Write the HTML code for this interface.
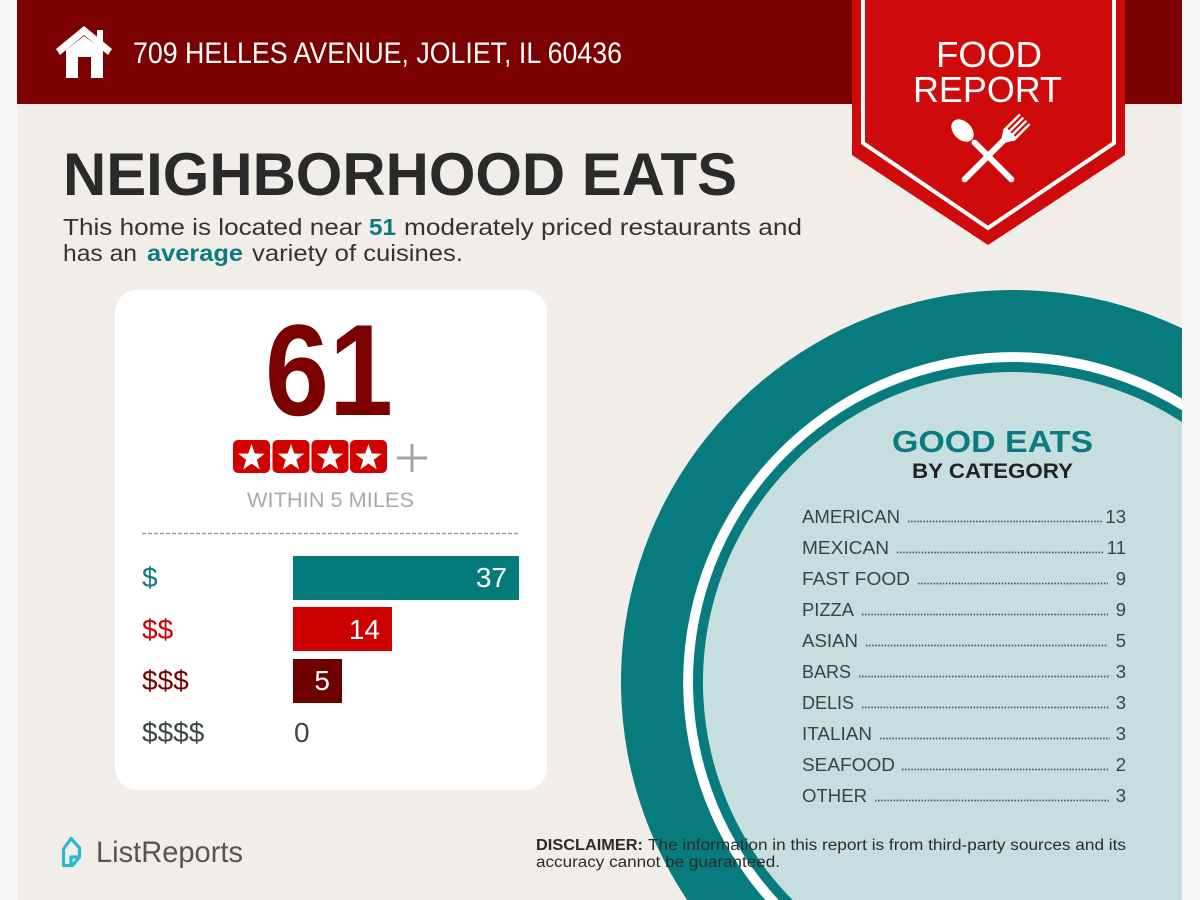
<!DOCTYPE html>
<html>
<head>
<meta charset="utf-8">
<style>
  html,body{margin:0;padding:0;background:#f6f6f8;width:1200px;height:900px;overflow:hidden;}
  svg{display:block;}
  text{font-family:"Liberation Sans", sans-serif;}
</style>
</head>
<body>
<svg width="1200" height="900" viewBox="0 0 1200 900" xmlns="http://www.w3.org/2000/svg">
  <!-- backgrounds -->
  <rect x="0" y="0" width="1200" height="900" fill="#f6f6f8"/>
  <rect x="17" y="0" width="1165" height="900" fill="#f1ede9"/>
  <rect x="17" y="0" width="1165" height="104" fill="#7b0000"/>

  <!-- header house icon -->
  <g fill="#ffffff">
    <polygon points="56,49 84,26 112,49 108,55 84,35 60,55"/>
    <rect x="97" y="30" width="6" height="13"/>
    <path fill-rule="evenodd" d="M66,50 L84,36 L103,50 L103,78 L66,78 Z M78,57 L91,57 L91,78 L78,78 Z"/>
  </g>
  <text x="133" y="63" font-size="30" fill="#ffffff" textLength="489" lengthAdjust="spacingAndGlyphs">709 HELLES AVENUE, JOLIET, IL 60436</text>

  <!-- title -->
  <text x="63" y="195" font-size="60" font-weight="bold" fill="#2a2a2a" textLength="674" lengthAdjust="spacingAndGlyphs">NEIGHBORHOOD EATS</text>
  <g font-size="23" fill="#333333">
    <text x="63" y="235" textLength="299" lengthAdjust="spacingAndGlyphs">This home is located near</text>
    <text x="369" y="235" font-weight="bold" fill="#0a7b7e" textLength="27" lengthAdjust="spacingAndGlyphs">51</text>
    <text x="404" y="235" textLength="398" lengthAdjust="spacingAndGlyphs">moderately priced restaurants and</text>
    <text x="63" y="261" textLength="74" lengthAdjust="spacingAndGlyphs">has an</text>
    <text x="147" y="261" font-weight="bold" fill="#0a7b7e" textLength="96" lengthAdjust="spacingAndGlyphs">average</text>
    <text x="252" y="261" textLength="211" lengthAdjust="spacingAndGlyphs">variety of cuisines.</text>
  </g>

  <!-- circle (pre-clipped arcs) -->
  <path d="M1182,328.3 A392,392 0 0 0 687.2,900 L1182,900 Z" fill="#087b7e"/>
  <path d="M1182,398.6 A330,330 0 0 0 765.3,900 L1182,900 Z" fill="#ffffff"/>
  <path d="M1182,410.3 A320,320 0 0 0 778.7,900 L1182,900 Z" fill="#087b7e"/>
  <path d="M1182,422.1 A310,310 0 0 0 792.6,900 L1182,900 Z" fill="#c6dfde"/>

  <!-- badge -->
  <polygon points="852,0 1125,0 1125,155 988,245 852,155" fill="#cf0a0a"/>
  <polyline points="863,0 863,143 988,228 1114,143 1114,0" fill="none" stroke="#ffffff" stroke-width="4"/>
  <text x="936" y="67" font-size="36" fill="#ffffff" textLength="106" lengthAdjust="spacingAndGlyphs">FOOD</text>
  <text x="913" y="102" font-size="36" fill="#ffffff" textLength="149" lengthAdjust="spacingAndGlyphs">REPORT</text>
  <!-- spoon -->
  <g transform="translate(988,156) rotate(-45)" fill="#ffffff">
    <rect x="-3" y="-22" width="6" height="58" rx="3"/>
    <ellipse cx="0" cy="-36" rx="9" ry="13"/>
  </g>
  <!-- fork -->
  <g transform="translate(988,156) rotate(45)" fill="#ffffff">
    <rect x="-3" y="-24" width="6" height="60" rx="3"/>
    <path d="M-3,-22 L-8,-30 L8,-30 L3,-22 Z"/>
    <rect x="-8" y="-33" width="16" height="4"/>
    <rect x="-8" y="-52" width="2.4" height="22"/>
    <rect x="-3.4" y="-52" width="2.4" height="22"/>
    <rect x="1" y="-52" width="2.4" height="22"/>
    <rect x="5.6" y="-52" width="2.4" height="22"/>
  </g>

  <!-- card -->
  <rect x="115" y="290" width="432" height="500" rx="22" fill="#ffffff"/>
  <text x="265" y="415" font-size="130" font-weight="bold" fill="#7b0000" textLength="128" lengthAdjust="spacingAndGlyphs">61</text>
  <g fill="#d20000">
    <rect x="233" y="440" width="37" height="33" rx="5"/>
    <rect x="272.5" y="440" width="37" height="33" rx="5"/>
    <rect x="311.5" y="440" width="37" height="33" rx="5"/>
    <rect x="350" y="440" width="37" height="33" rx="5"/>
  </g>
  <g fill="#ffffff">
    <polygon transform="translate(251.5,458)" points="0,-14 3.29,-4.53 13.32,-4.33 5.33,1.73 8.23,11.33 0,5.6 -8.23,11.33 -5.33,1.73 -13.32,-4.33 -3.29,-4.53"/>
    <polygon transform="translate(291,458)" points="0,-14 3.29,-4.53 13.32,-4.33 5.33,1.73 8.23,11.33 0,5.6 -8.23,11.33 -5.33,1.73 -13.32,-4.33 -3.29,-4.53"/>
    <polygon transform="translate(330,458)" points="0,-14 3.29,-4.53 13.32,-4.33 5.33,1.73 8.23,11.33 0,5.6 -8.23,11.33 -5.33,1.73 -13.32,-4.33 -3.29,-4.53"/>
    <polygon transform="translate(368.5,458)" points="0,-14 3.29,-4.53 13.32,-4.33 5.33,1.73 8.23,11.33 0,5.6 -8.23,11.33 -5.33,1.73 -13.32,-4.33 -3.29,-4.53"/>
  </g>
  <g stroke="#a5a5a5" stroke-width="3">
    <line x1="397" y1="458" x2="427" y2="458"/>
    <line x1="412" y1="444" x2="412" y2="472"/>
  </g>
  <text x="247" y="507" font-size="21" fill="#aaaaaa" textLength="167" lengthAdjust="spacingAndGlyphs">WITHIN 5 MILES</text>
  <line x1="142" y1="533.5" x2="519" y2="533.5" stroke="#9a9a9a" stroke-width="1.5" stroke-dasharray="4 2"/>

  <!-- bars -->
  <rect x="293" y="556" width="226" height="44" fill="#037b7b"/>
  <rect x="293" y="607" width="99" height="44" fill="#cc0000"/>
  <rect x="293" y="659" width="49" height="44" fill="#6f0000"/>
  <g font-size="28">
    <text x="142" y="587" fill="#0a7b7e">$</text>
    <text x="142" y="639" fill="#cc0000">$$</text>
    <text x="142" y="690" fill="#7a0000">$$$</text>
    <text x="142" y="742" fill="#3b4747">$$$$</text>
    <text x="507" y="587" fill="#ffffff" text-anchor="end">37</text>
    <text x="380" y="639" fill="#ffffff" text-anchor="end">14</text>
    <text x="330" y="690" fill="#ffffff" text-anchor="end">5</text>
    <text x="294" y="742" fill="#3b4747">0</text>
  </g>

  <!-- good eats -->
  <text x="892" y="452" font-size="31" font-weight="bold" fill="#0a7b7e" textLength="201" lengthAdjust="spacingAndGlyphs">GOOD EATS</text>
  <text x="912" y="478" font-size="21" font-weight="bold" fill="#222222" textLength="161" lengthAdjust="spacingAndGlyphs">BY CATEGORY</text>

  <g font-size="18.5" fill="#3a4444">
    <text x="802" y="523" textLength="98" lengthAdjust="spacingAndGlyphs">AMERICAN</text>
    <text x="802" y="554" textLength="87" lengthAdjust="spacingAndGlyphs">MEXICAN</text>
    <text x="802" y="585" textLength="108" lengthAdjust="spacingAndGlyphs">FAST FOOD</text>
    <text x="802" y="616" textLength="52" lengthAdjust="spacingAndGlyphs">PIZZA</text>
    <text x="802" y="647" textLength="56" lengthAdjust="spacingAndGlyphs">ASIAN</text>
    <text x="802" y="678" textLength="49" lengthAdjust="spacingAndGlyphs">BARS</text>
    <text x="802" y="709" textLength="52" lengthAdjust="spacingAndGlyphs">DELIS</text>
    <text x="802" y="740" textLength="70" lengthAdjust="spacingAndGlyphs">ITALIAN</text>
    <text x="802" y="771" textLength="93" lengthAdjust="spacingAndGlyphs">SEAFOOD</text>
    <text x="802" y="802" textLength="65" lengthAdjust="spacingAndGlyphs">OTHER</text>
  </g>
  <g font-size="18.5" fill="#3a4444" text-anchor="end">
    <text x="1126" y="523">13</text>
    <text x="1126" y="554">11</text>
    <text x="1126" y="585">9</text>
    <text x="1126" y="616">9</text>
    <text x="1126" y="647">5</text>
    <text x="1126" y="678">3</text>
    <text x="1126" y="709">3</text>
    <text x="1126" y="740">3</text>
    <text x="1126" y="771">2</text>
    <text x="1126" y="802">3</text>
  </g>
  <g stroke="#4a5555" stroke-width="1.8" stroke-dasharray="1.5 1.6">
    <line x1="908" y1="521.5" x2="1102" y2="521.5"/>
    <line x1="897" y1="552.5" x2="1103" y2="552.5"/>
    <line x1="918" y1="583.5" x2="1108" y2="583.5"/>
    <line x1="862" y1="614.5" x2="1108" y2="614.5"/>
    <line x1="866" y1="645.5" x2="1108" y2="645.5"/>
    <line x1="859" y1="676.5" x2="1110" y2="676.5"/>
    <line x1="862" y1="707.5" x2="1110" y2="707.5"/>
    <line x1="880" y1="738.5" x2="1110" y2="738.5"/>
    <line x1="902" y1="769.5" x2="1108" y2="769.5"/>
    <line x1="875" y1="800.5" x2="1110" y2="800.5"/>
  </g>

  <!-- footer -->
  <g fill="none" stroke="#2bb8c8" stroke-width="3.2" stroke-linejoin="round">
    <path d="M63.5,849 L71,838.5 L79.5,848 L79.5,857 L72.5,865.5 L63.5,865.5 Z"/>
    <path d="M71,865.5 L71,857 L79.5,857"/>
  </g>
  <text x="96" y="862" font-size="30" fill="#555555" textLength="147" lengthAdjust="spacingAndGlyphs">ListReports</text>

  <g font-size="15.5" fill="#2b2b2b">
    <text x="536" y="850" font-weight="bold" textLength="107" lengthAdjust="spacingAndGlyphs">DISCLAIMER:</text>
    <text x="648" y="850" textLength="478" lengthAdjust="spacingAndGlyphs">The information in this report is from third-party sources and its</text>
    <text x="536" y="867" textLength="244" lengthAdjust="spacingAndGlyphs">accuracy cannot be guaranteed.</text>
  </g>
</svg>
</body>
</html>
